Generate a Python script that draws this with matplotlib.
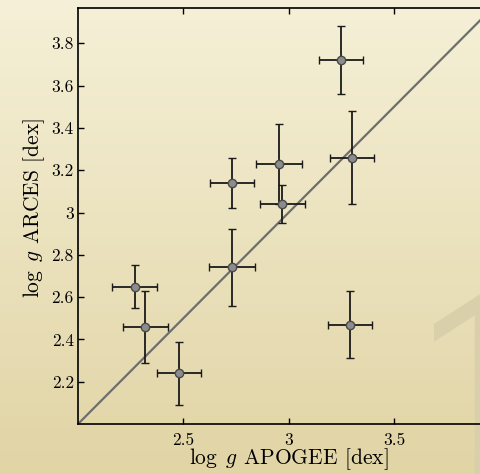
import numpy as np
import matplotlib
matplotlib.use('Agg')
import matplotlib.pyplot as plt
from matplotlib.ticker import FuncFormatter

# log g comparison, one entry per star
logg_apogee = [3.25, 3.30, 3.29, 2.73, 2.955, 2.97, 2.73, 2.27, 2.32, 2.48]
logg_arces = [3.72, 3.26, 2.47, 3.14, 3.23, 3.04, 2.74, 2.65, 2.46, 2.24]
err_apogee = [0.105, 0.105, 0.105, 0.105, 0.11, 0.106, 0.108, 0.107, 0.107, 0.106]
err_arces = [0.16, 0.22, 0.16, 0.12, 0.19, 0.09, 0.18, 0.10, 0.17, 0.15]

x_ticks = [2.5, 3.0, 3.5]
y_ticks = [2.2, 2.4, 2.6, 2.8, 3.0, 3.2, 3.4, 3.6, 3.8]

plt.rcParams['font.family'] = 'cmr10'
plt.rcParams['mathtext.fontset'] = 'cm'
plt.rcParams['axes.formatter.use_mathtext'] = True

fig = plt.figure(figsize=(4.81, 4.74), dpi=100)

# parchment-like background
bg = fig.add_axes([0, 0, 1, 1], zorder=0)
top = np.array([245, 240, 215]) / 255
bot = np.array([225, 212, 165]) / 255
t = np.linspace(0, 1, 256)[:, None]
grad = top[None, :] * (1 - t) + bot[None, :] * t
bg.imshow(grad[:, None, :], aspect='auto', extent=[0, 1, 0, 1])
# big faded numeral in the background
bg.text(0.83, -0.05, '1', fontsize=200, family='DejaVu Serif',
        color=(0.85, 0.81, 0.67), ha='left', va='baseline',
        transform=bg.transAxes)
bg.set_xlim(0, 1)
bg.set_ylim(0, 1)
bg.axis('off')

ax = fig.add_axes([78 / 481, 50 / 474, 2 * 210.7 / 481, 416 / 474], zorder=1)
ax.set_facecolor('none')

ax.plot([2, 4], [2, 4], color='#6e6e6e', lw=1.6, zorder=1)
ax.errorbar(logg_apogee, logg_arces, xerr=err_apogee, yerr=err_arces,
            fmt='o', ms=6, mfc='#8c8c8c', mec='#4a4a4a', mew=1.0,
            ecolor='#1a1a1a', elinewidth=1.3, capsize=3, capthick=1.3,
            zorder=3)

ax.set_xlim(2, 4)
ax.set_ylim(2, 2 + 416 / 211.5)
ax.set_xticks(x_ticks)
ax.set_yticks(y_ticks)
fmt = FuncFormatter(lambda v, _: f'{v:g}')
ax.xaxis.set_major_formatter(fmt)
ax.yaxis.set_major_formatter(fmt)
ax.tick_params(direction='in', length=4, width=1.0, top=True, right=True,
               labelsize=12.5, pad=3)
ax.tick_params(axis='x', pad=6)
for s in ax.spines.values():
    s.set_linewidth(1.2)

ax.set_xlabel(r'$\log\ g$ APOGEE [dex]', fontsize=15.5, labelpad=-1)
ax.set_ylabel(r'$\log\ g$ ARCES [dex]', fontsize=15.5)
ax.yaxis.set_label_coords(-0.074, 0.52)

fig.savefig('out.png', dpi=100)
